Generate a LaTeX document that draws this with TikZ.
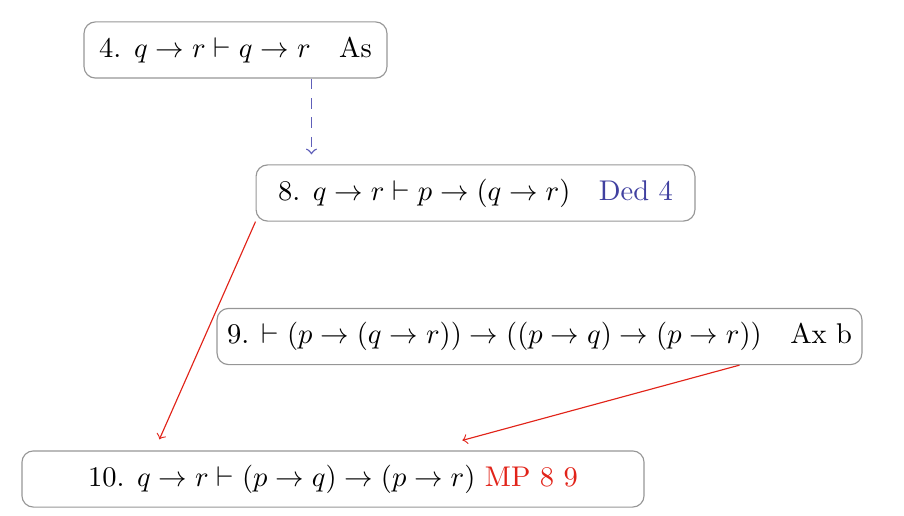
\documentclass[tikz,border=0pt]{standalone}
\usetikzlibrary{calc}
\definecolor{dedblue}{RGB}{64,64,160}
\definecolor{dedline}{RGB}{95,95,185}
\definecolor{mpred}{RGB}{225,35,25}
\definecolor{boxgray}{RGB}{150,150,150}

\begin{document}
\begin{tikzpicture}[
    x=0.3509pt, y=-0.3509pt,
    line/.style={draw=boxgray, rectangle, rounded corners, align=center,
      minimum height=19.7pt, inner xsep=2pt},
    ded/.style={->, dedline, line width=0.5pt, dash pattern=on 3.7pt off 3.1pt},
    mp/.style={->, mpred}
  ]
    \useasboundingbox (0,0) rectangle (904,515);
    % Proof lines
    \node[line, minimum width=106.3pt] (l4)  at (235.5,50)  {4. $q\to r\vdash q\to r$\quad As};
    \node[line, minimum width=154pt]   (l8)  at (475.5,193) {8. $q\to r\vdash p\to(q\to r)$\quad \textcolor{dedblue}{Ded 4}};
    \node[line, minimum width=226.3pt] (l9)  at (539.5,336.5) {9. $\vdash(p\to(q\to r))\to((p\to q)\to(p\to r))$\quad Ax b};
    \node[line, minimum width=218.3pt] (l10) at (333,479)   {10. $q\to r\vdash(p\to q)\to(p\to r)$ \textcolor{mpred}{MP 8 9}};
    % Arrows
    \coordinate (d4) at ($(l4.south west)+(228,0)$);
    \draw[ded, shorten >=3.5pt] (d4) -- (d4 |- l8.north);
    \coordinate (in10a) at ($(l10.north west)+(138,-11)$);
    \coordinate (out9)  at ($(l9.south west)+(523,0)$);
    \coordinate (in10b) at ($(l10.north west)+(441,-10)$);
    \draw[mp] (l8.south west) -- (in10a);
    \draw[mp] (out9) -- (in10b);
  \end{tikzpicture}
\end{document}
